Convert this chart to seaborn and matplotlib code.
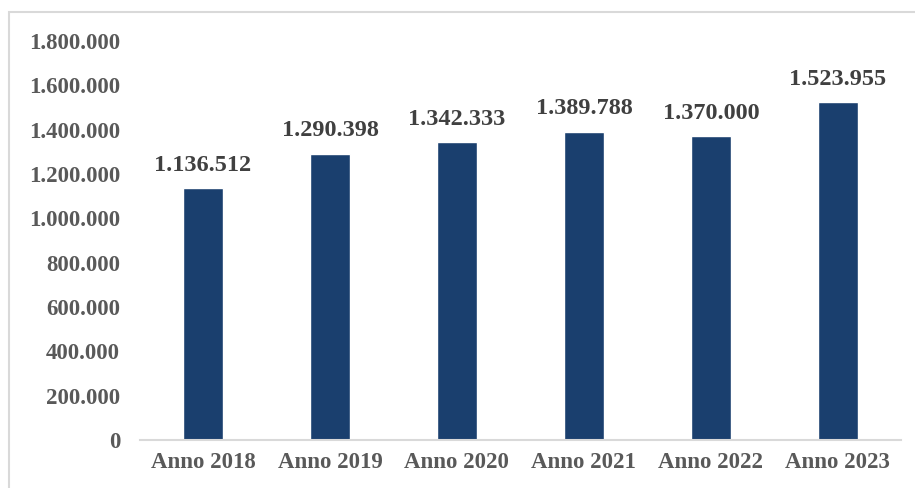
import matplotlib
matplotlib.use("Agg")
import matplotlib.pyplot as plt
from matplotlib.patches import Rectangle
from matplotlib.ticker import FuncFormatter
import seaborn as sns
import pandas as pd

categories = ["Anno 2018", "Anno 2019", "Anno 2020", "Anno 2021", "Anno 2022", "Anno 2023"]
values = [1136512, 1290398, 1342333, 1389788, 1370000, 1523955]
value_labels = ["1.136.512", "1.290.398", "1.342.333", "1.389.788", "1.370.000", "1.523.955"]
yticks = [0, 200000, 400000, 600000, 800000, 1000000, 1200000, 1400000, 1600000, 1800000]

sns.set_theme(style="white")
plt.rcParams['font.family'] = ['Liberation Serif', 'DejaVu Serif']

df = pd.DataFrame({"cat": categories, "val": values})

fig = plt.figure(figsize=(9.15, 4.88), dpi=100)
ax = fig.add_axes([0.1525, 0.0984, 0.8325, 0.8176])

sns.barplot(data=df, x="cat", y="val", color="#1A3F6E", saturation=1, width=0.315, ax=ax)

ax.set_ylim(0, 1800000)
ax.set_xlim(-0.5, len(categories) - 0.5)
ax.set_yticks(yticks)
ax.yaxis.set_major_formatter(FuncFormatter(lambda v, p: f"{int(v):,}".replace(",", ".")))
ax.set_xlabel("")
ax.set_ylabel("")

for s in ["top", "right", "left"]:
    ax.spines[s].set_visible(False)
ax.spines["bottom"].set_color("#D9D9D9")
ax.spines["bottom"].set_linewidth(1.5)

ax.tick_params(axis="y", length=0, pad=14, labelsize=16.5, labelcolor="#595959")
ax.tick_params(axis="x", length=0, pad=9, labelsize=16.5, labelcolor="#595959")
for lab in ax.get_xticklabels() + ax.get_yticklabels():
    lab.set_fontweight("bold")

for i, (v, t) in enumerate(zip(values, value_labels)):
    ax.annotate(t, (i, v), xytext=(0, 9), textcoords="offset points",
                ha="center", va="bottom", fontsize=17.5, fontweight="bold", color="#404040")

border = Rectangle((9 / 915, -0.5), 2.0, 1.5 - 12 / 488, transform=fig.transFigure,
                   fill=False, edgecolor="#D9D9D9", linewidth=1.5, clip_on=False)
fig.patches.append(border)

fig.savefig("out.png", dpi=100, facecolor="white")
